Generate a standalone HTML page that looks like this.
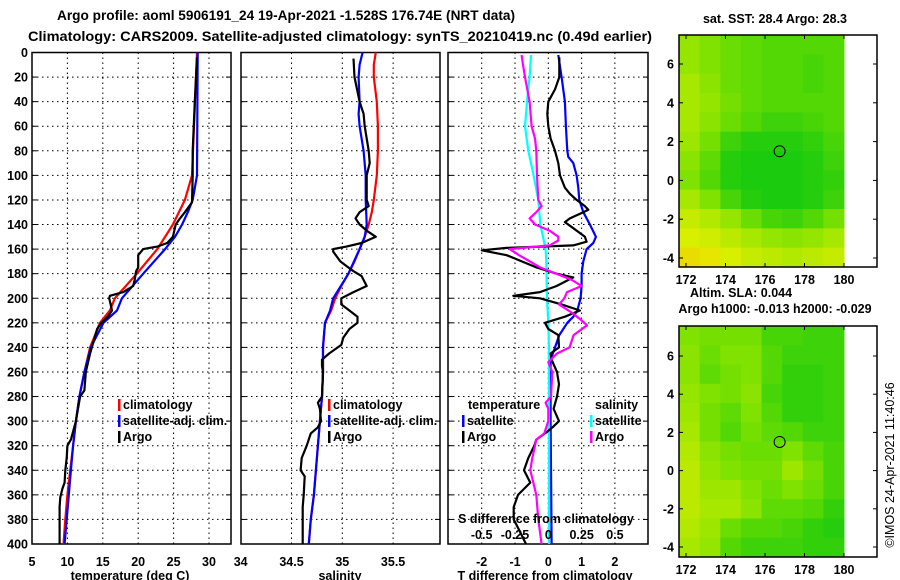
<!DOCTYPE html>
<html><head><meta charset="utf-8"><style>
html,body{margin:0;padding:0;background:#fff;}
svg{display:block;font-family:"Liberation Sans",Arial,sans-serif;font-weight:bold;}
text{fill:#000;}
</style></head><body>
<svg id="fig" width="900" height="580" viewBox="0 0 900 580" xmlns="http://www.w3.org/2000/svg">
<text x="57" y="20" font-size="14" textLength="458" lengthAdjust="spacingAndGlyphs">Argo profile: aoml 5906191_24 19-Apr-2021 -1.528S 176.74E (NRT data)</text>
<text x="28" y="41" font-size="14" textLength="624" lengthAdjust="spacingAndGlyphs">Climatology: CARS2009. Satellite-adjusted climatology: synTS_20210419.nc (0.49d earlier)</text>
<g id="plots"></g>
</svg>
<script>
// ---------- data ----------
const depthTicks=[0,20,40,60,80,100,120,140,160,180,200,220,240,260,280,300,320,340,360,380,400];
const tempTicks=[5,10,15,20,25,30];
const salTicks=[34,34.5,35,35.5];
const tdiffTicks=[-2,-1,0,1,2];
const sdiffTicks=[-0.5,-0.25,0,0.25,0.5];

const climTDepth=[0,100,120,140,160,180,200,210,220,240,260,280,300,320,340,360,380,400];
const climT=[28.3,27.6,26.6,24.9,22.7,19.8,16.7,16.0,14.6,13.2,12.4,11.7,11.2,10.8,10.4,10.0,9.7,9.45];
const satTDepth=[0,100,120,130,140,150,160,180,200,210,220,240,260,280,300,320,340,360,380,400];
const satT=[28.4,28.3,27.7,27.0,26.2,25.2,23.8,20.7,17.7,17.0,15.1,13.3,12.4,11.7,11.2,10.8,10.5,10.2,9.9,9.6];
const argoTDepth=[4,40,80,100,122,130,135,140,150,155,158,160,165,175,178,185,190,195,198,200,205,210,215,220,225,235,245,260,275,280,300,315,320,330,340,350,355,362,370,400];
const argoT=[28.3,28.0,27.7,27.7,27.6,26.6,25.9,25.3,24.9,24.1,22.7,20.7,20.0,20.0,19.7,19.5,19.3,17.9,16.0,15.9,16.1,16.3,15.7,14.8,14.2,13.7,13.2,12.6,12.4,11.8,11.2,10.5,10.0,9.9,9.7,9.6,9.3,9.0,8.9,8.9];

const climSDepth=[0,10,20,40,60,80,100,120,130,140,150,160,170,180,190,200,210,220,240,260,280,300,320,340,360,380,400];
const climS=[35.33,35.31,35.31,35.34,35.35,35.35,35.34,35.31,35.29,35.26,35.22,35.17,35.12,35.06,34.99,34.93,34.89,34.83,34.81,34.81,34.80,34.78,34.76,34.74,34.72,34.69,34.67];
const satSDepth=[0,10,20,40,50,60,80,100,120,140,150,160,180,200,210,220,240,260,280,300,320,340,360,380,400];
const satS=[35.20,35.17,35.16,35.17,35.16,35.17,35.21,35.23,35.23,35.24,35.22,35.17,35.06,34.91,34.88,34.83,34.81,34.81,34.80,34.78,34.76,34.74,34.72,34.69,34.67];
const argoSDepth=[5,20,40,50,60,70,80,90,100,120,125,130,135,140,145,150,155,158,160,162,170,175,178,182,190,195,200,205,210,215,220,225,232,238,245,250,255,260,280,285,290,300,305,310,320,330,340,345,360,370,400];
const argoS=[35.11,35.12,35.17,35.21,35.22,35.24,35.26,35.27,35.24,35.24,35.26,35.17,35.13,35.17,35.24,35.33,35.19,35.04,34.91,34.91,34.98,35.06,35.11,35.19,35.24,35.11,34.99,34.99,35.07,35.15,35.15,35.07,35.01,34.99,34.87,34.80,34.80,34.81,34.80,34.76,34.78,34.79,34.76,34.69,34.65,34.60,34.59,34.63,34.62,34.61,34.61];

const satTdDepth=[2,20,40,60,80,85,90,100,110,120,130,140,150,155,160,170,180,190,200,210,215,220,230,240,250,300,400];
const satTd=[0.30,0.40,0.50,0.53,0.57,0.60,0.75,0.85,0.90,0.93,1.05,1.25,1.43,1.35,1.15,1.05,1.0,1.0,0.97,0.87,0.75,0.57,0.33,0.2,0.07,0.07,0.1];
const argoTdDepth=[4,20,30,40,50,60,70,80,90,100,110,115,120,125,128,130,135,138,143,150,154,157,159,161,165,175,180,183,190,195,198,200,205,210,215,220,225,230,240,245,250,260,270,280,290,300,305,310,315,320,330,340,350,360,370,380,390,400];
const argoTd=[0.33,0.33,0.2,0.0,-0.03,0.0,0.07,0.2,0.3,0.35,0.5,0.65,0.85,1.1,1.2,1.05,0.65,0.5,0.75,1.1,1.15,0.75,-1.25,-2.0,-1.25,-0.35,0.25,0.75,0.25,-0.25,-1.05,-0.25,0.4,0.95,0.5,-0.1,0.0,0.3,0.32,0.07,0.1,0.26,0.32,0.26,0.16,0.32,0.13,-0.1,-0.36,-0.42,-0.6,-0.73,-0.54,-0.91,-1.04,-1.04,-0.85,-0.67];
const satSdDepth=[2,20,40,60,80,100,120,140,150,160,170,200,220,240,300,400];
const satSd=[-0.13,-0.14,-0.16,-0.175,-0.15,-0.11,-0.075,-0.06,-0.04,-0.02,-0.015,-0.01,0,0.005,0.005,0.005];
const argoSdDepth=[2,10,20,40,60,70,80,100,120,125,130,135,140,145,150,153,157,160,165,175,180,185,190,195,200,205,212,218,222,230,240,245,252,260,280,285,290,300,310,315,320,330,340,360,380,400];
const argoSd=[-0.2,-0.19,-0.175,-0.14,-0.125,-0.1,-0.09,-0.085,-0.075,-0.05,-0.09,-0.14,-0.1,0.01,0.075,0.075,0.01,-0.29,-0.22,-0.06,0.06,0.175,0.25,0.14,0.12,0.08,0.18,0.25,0.29,0.19,0.16,0.065,0,0.03,0.02,-0.02,0,0,-0.03,-0.09,-0.1,-0.12,-0.135,-0.09,-0.075,-0.05];

const lonTicks=[172,174,176,178,180];
const latTicks=[6,4,2,0,-2,-4];
const sstGrid=[
[0.6,0.5,0.4,0.35,0.3,0.3,0.3,0.3],
[0.6,0.5,0.4,0.35,0.3,0.3,0.25,0.3],
[0.7,0.55,0.4,0.35,0.3,0.3,0.25,0.3],
[0.7,0.6,0.45,0.35,0.3,0.3,0.3,0.3],
[0.7,0.55,0.4,0.3,0.2,0.2,0.25,0.3],
[0.65,0.45,0.2,0.1,0.1,0.1,0.15,0.25],
[0.55,0.35,0.1,0.05,0.05,0.05,0.1,0.2],
[0.5,0.3,0.1,0.05,0.05,0.05,0.1,0.15],
[0.7,0.5,0.25,0.1,0.05,0.05,0.1,0.2],
[0.85,0.75,0.6,0.4,0.25,0.2,0.3,0.45],
[0.95,0.9,0.8,0.7,0.6,0.55,0.6,0.7],
[1.1,1.05,0.95,0.85,0.8,0.75,0.8,0.85]];
const slaGrid=[
[0.5,0.45,0.45,0.45,0.25,0.25,0.2,0.2],
[0.55,0.4,0.5,0.5,0.3,0.2,0.2,0.2],
[0.55,0.35,0.45,0.5,0.3,0.15,0.15,0.2],
[0.6,0.5,0.45,0.55,0.25,0.15,0.15,0.2],
[0.65,0.45,0.35,0.5,0.3,0.15,0.15,0.2],
[0.7,0.45,0.3,0.45,0.35,0.3,0.2,0.2],
[0.75,0.55,0.45,0.4,0.4,0.5,0.35,0.25],
[0.8,0.6,0.5,0.45,0.45,0.65,0.45,0.25],
[0.8,0.65,0.65,0.5,0.4,0.5,0.4,0.25],
[0.8,0.7,0.7,0.55,0.35,0.35,0.3,0.15],
[0.75,0.65,0.4,0.3,0.3,0.25,0.15,0.1],
[0.7,0.6,0.3,0.2,0.2,0.2,0.15,0.15]];
const floatLon=176.74, floatLat=1.5;

// ---------- helpers ----------
const NS="http://www.w3.org/2000/svg";
const root=document.getElementById('plots');
function mk(tag,attrs,parent){const e=document.createElementNS(NS,tag);for(const k in attrs)e.setAttribute(k,attrs[k]);(parent||root).appendChild(e);return e;}
function txt(s,x,y,size,anchor,parent){const t=mk('text',{x:x,y:y,'font-size':size,'text-anchor':anchor||'start'},parent);t.textContent=s;return t;}
const Y0=52.5,Y1=544;
const yD=d=>Y0+d*(Y1-Y0)/400;

function panel(name,x0,x1,xs,xticks,tickLabel){
  const g=mk('g',{});
  
  
  xticks.forEach(v=>{const x=xs(v); if(x>x0+1&&x<x1-1){
    const l=mk('line',{x1:x,x2:x,y1:Y0,y2:Y1,stroke:'#000','stroke-width':1,'stroke-dasharray':'1.5,3.5'},g);
    
    }});
  depthTicks.forEach(d=>{const y=yD(d); if(d>0&&d<400){
    const l=mk('line',{x1:x0,x2:x1,y1:y,y2:y,stroke:'#000','stroke-width':1,'stroke-dasharray':'1.5,3.5'},g);
    
    
    mk('line',{x1:x0,x2:x0+5,y1:y,y2:y,stroke:'#000'},g);mk('line',{x1:x1-5,x2:x1,y1:y,y2:y,stroke:'#000'},g);}});
  if(tickLabel){xticks.forEach(v=>{const t=txt(String(v),xs(v),566,12.5,'middle',g);
    
    });}
  const r=mk('rect',{x:x0,y:Y0,width:x1-x0,height:Y1-Y0,fill:'none',stroke:'#000','stroke-width':1.5},g);
  
  
  return g;
}
function series(g,name,depths,vals,xs,color){
  const pts=depths.map((d,i)=>xs(vals[i]).toFixed(1)+','+yD(d).toFixed(1)).join(' ');
  const p=mk('polyline',{points:pts,fill:'none',stroke:color,'stroke-width':2.2,'stroke-linejoin':'round'},g);
  
  
}
function legendEntry(g,name,x,y,color,label){
  const m=mk('rect',{x:x,y:y-10,width:2.5,height:12,fill:color},g);
  
  
  const t=txt(label,x+5,y,12.5,'start',g);
  
  
}

// y-axis labels
depthTicks.forEach(d=>{const t=txt(String(d),28,yD(d)+4.5,12.5,'end');
  
  });

// panel 1 temperature
const xT=v=>32+(v-5)*7.08;
const g1=panel('temperature-panel',32,231,xT,tempTicks,true);
series(g1,'temperature-climatology-line',climTDepth,climT,xT,'#ff0000');
series(g1,'temperature-satellite-line',satTDepth,satT,xT,'#0000ff');
series(g1,'temperature-argo-line',argoTDepth,argoT,xT,'#000000');
legendEntry(g1,'legend-climatology',118,409,'#ff0000','climatology');
legendEntry(g1,'legend-satellite-adj',118,425,'#0000ff','satellite-adj. clim.');
legendEntry(g1,'legend-argo',118,441,'#000000','Argo');
{const t=txt('temperature (deg C)',130,580,12.5,'middle');}

// panel 2 salinity
const xS=v=>240.7+(v-34)*101.6;
const g2=panel('salinity-panel',241,440,xS,salTicks,true);
series(g2,'salinity-climatology-line',climSDepth,climS,xS,'#ff0000');
series(g2,'salinity-satellite-line',satSDepth,satS,xS,'#0000ff');
series(g2,'salinity-argo-line',argoSDepth,argoS,xS,'#000000');
legendEntry(g2,'legend-climatology-s',328,409,'#ff0000','climatology');
legendEntry(g2,'legend-satellite-adj-s',328,425,'#0000ff','satellite-adj. clim.');
legendEntry(g2,'legend-argo-s',328,441,'#000000','Argo');
{const t=txt('salinity',340,580,12.5,'middle');}

// panel 3 differences
const xTd=v=>548.3+v*33.3;
const xSd=v=>548.3+v*133.3;
const g3=panel('difference-panel',448,648,xTd,tdiffTicks,true);
series(g3,'tdiff-satellite-line',satTdDepth,satTd,xTd,'#0000ff');
series(g3,'sdiff-satellite-line',satSdDepth,satSd,xSd,'#00ffff');
series(g3,'tdiff-argo-line',argoTdDepth,argoTd,xTd,'#000000');
series(g3,'sdiff-argo-line',argoSdDepth,argoSd,xSd,'#ff00ff');
{const t=txt('temperature',468,409,12.5,'start',g3);}
{const t=txt('salinity',595,409,12.5,'start',g3);}
legendEntry(g3,'legend-tdiff-satellite',462,425,'#0000ff','satellite');
legendEntry(g3,'legend-tdiff-argo',462,441,'#000000','Argo');
legendEntry(g3,'legend-sdiff-satellite',590,425,'#00ffff','satellite');
legendEntry(g3,'legend-sdiff-argo',590,441,'#ff00ff','Argo');
{const t=txt('S difference from climatology',546,523,12.5,'middle',g3);}
sdiffTicks.forEach(v=>{const t=txt(String(v),xSd(v),539,12.5,'middle',g3);
  
  });
{const t=txt('T difference from climatology',545,580,12.5,'middle');}

// ---------- maps ----------
function colorOf(v){
  const stops=[[0,[16,200,16]],[0.5,[128,226,0]],[1,[226,240,0]],[1.2,[240,200,0]]];
  v=Math.max(0,Math.min(1.2,v));
  for(let i=0;i<stops.length-1;i++){const a=stops[i],b=stops[i+1];
    if(v<=b[0]){const t=(v-a[0])/(b[0]-a[0]);return 'rgb('+a[1].map((c,k)=>Math.round(c+(b[1][k]-c)*t)).join(',')+')';}}
  return 'rgb(240,200,0)';
}
function map(name,fy0,fy1,latAt6,pxPerLat,grid,titleLines){
  const g=mk('g',{});
  
  
  const lonX=l=>686+(l-172)*19.75;
  const latY=l=>latAt6+(6-l)*pxPerLat;
  const lonW=(180-171.65)/grid[0].length;
  const latTop=6+(latAt6-fy0)/pxPerLat, latBot=6-(fy1-latAt6)/pxPerLat;
  const latH=(latTop-latBot)/grid.length;
  grid.forEach((row,r)=>row.forEach((v,c)=>{
    const xa=lonX(171.65+c*lonW), xb=lonX(171.65+(c+1)*lonW);
    const ya=latY(latTop-r*latH), yb=latY(latTop-(r+1)*latH);
    const cell=mk('rect',{x:xa,y:ya,width:xb-xa+0.5,height:yb-ya+0.5,fill:colorOf(v)},g);
    
    
  }));
  const fr=mk('rect',{x:679,y:fy0,width:198,height:fy1-fy0,fill:'none',stroke:'#000','stroke-width':1.5},g);
  
  
  lonTicks.forEach(l=>{const x=lonX(l);
    mk('line',{x1:x,x2:x,y1:fy0,y2:fy0+4,stroke:'#000'},g);mk('line',{x1:x,x2:x,y1:fy1-4,y2:fy1,stroke:'#000'},g);
    const t=txt(String(l),x,fy1+17,12.5,'middle',g);
    
    });
  latTicks.forEach(l=>{const y=latY(l);
    mk('line',{x1:679,x2:683,y1:y,y2:y,stroke:'#000'},g);mk('line',{x1:873,x2:877,y1:y,y2:y,stroke:'#000'},g);
    const t=txt(String(l),674,y+4.5,12.5,'end',g);
    
    });
  const c=mk('circle',{cx:lonX(floatLon),cy:latY(floatLat),r:5.5,fill:'none',stroke:'#000','stroke-width':1},g);
  
  
  titleLines.forEach(tl=>{const t=txt(tl[0],tl[1],tl[2],12.5,'middle',g);
    
    });
}
map('sst-map',35,267,64,19.4,sstGrid,[['sat. SST: 28.4 Argo: 28.3',775,23]]);
map('sla-map',326,557,356,19.1,slaGrid,[['Altim. SLA: 0.044',741,297],['Argo h1000: -0.013 h2000: -0.029',775,313]]);
{const t=txt('©IMOS 24-Apr-2021 11:40:46',0,0,12.5,'middle');t.setAttribute('transform','translate(894,465) rotate(-90)');t.setAttribute('font-weight','normal');}
</script>
</body></html>
